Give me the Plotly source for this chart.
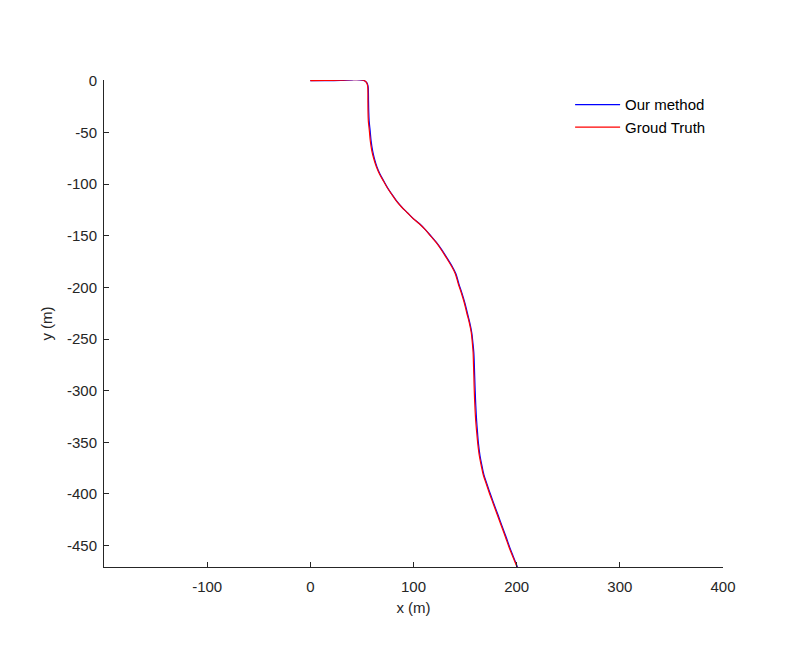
import plotly.graph_objects as go

# Ground truth trajectory (m)
gt_x = [0, 14.5, 29.1, 40.7, 47.5, 51.4, 54.3, 55.5, 55.8, 55.8, 55.9, 56.2, 57.2, 58.1, 59.6,
        61.5, 64.0, 66.9, 70.7, 74.6, 78.5, 83.3, 88.2, 94.0, 99.8, 105.6, 111.4, 117.2, 122.1,
        126.9, 131.8, 136.6, 140.5, 143.4, 146.3, 149.2, 151.6, 154.1, 156.0, 157.0, 157.8,
        158.1, 158.5, 158.9, 159.5, 160.3, 161.3, 162.3, 163.8, 165.7, 167.6, 170.5, 173.4,
        177.3, 181.2, 185.1, 189.0, 192.8, 196.7, 200.6]
gt_y = [0, 0.2, 0.5, 1.0, 1.0, 0.4, -1.5, -4.8, -11.6, -19.4, -29.0, -38.7, -48.4, -58.1,
        -67.8, -75.5, -83.3, -90.0, -96.8, -103.6, -109.4, -116.2, -122.0, -127.8, -133.6,
        -138.4, -144.2, -151.0, -156.8, -163.6, -171.3, -179.1, -186.8, -196.5, -205.2,
        -214.9, -224.6, -234.3, -243.9, -253.6, -263.3, -273.0, -285.6, -300.1, -314.6,
        -329.1, -340.8, -351.4, -363.0, -372.7, -381.4, -390.1, -398.8, -409.5, -420.1,
        -430.8, -441.4, -452.1, -461.8, -471.4]

# Our method trajectory (m)
our_x = [0, 14.5, 29.2, 40.8, 47.6, 51.6, 54.6, 55.9, 56.3, 56.4, 56.6, 57.0, 58.0, 58.9, 60.4,
         62.2, 64.6, 67.4, 71.1, 74.9, 78.8, 83.6, 88.5, 94.3, 100.1, 105.9, 111.7, 117.6, 122.6,
         127.5, 132.4, 137.2, 141.1, 144.0, 146.9, 149.8, 152.2, 154.6, 156.5, 157.6, 158.5,
         158.9, 159.3, 159.8, 160.4, 161.2, 162.1, 163.0, 164.5, 166.4, 168.3, 171.2, 174.1,
         178.0, 181.9, 185.8, 189.7, 193.5, 197.3, 201.1]
our_y = [0, 0.1, 0.4, 0.9, 0.9, 0.3, -1.6, -4.9, -11.7, -19.5, -29.1, -38.8, -48.5, -58.2,
         -67.9, -75.6, -83.4, -90.1, -96.9, -103.7, -109.5, -116.3, -122.1, -127.9, -133.7,
         -138.5, -144.3, -151.1, -156.9, -163.7, -171.4, -179.2, -186.9, -196.6, -205.3,
         -215.0, -224.7, -234.4, -244.0, -253.7, -263.4, -273.1, -285.7, -300.2, -314.7,
         -329.2, -340.9, -351.5, -363.1, -372.8, -381.5, -390.2, -398.9, -409.6, -420.2,
         -430.9, -441.5, -452.2, -461.9, -471.5]

x_ticks = [-100, 0, 100, 200, 300, 400]
y_ticks = [0, -50, -100, -150, -200, -250, -300, -350, -400, -450]

FONT = "Liberation Sans, Arial, Helvetica, sans-serif"
AX = "#262626"

fig = go.Figure()
fig.add_trace(go.Scatter(x=our_x, y=our_y, mode="lines", name="Our method",
                         line=dict(color="#0000ff", width=1.2, shape="spline", smoothing=1.0)))
fig.add_trace(go.Scatter(x=gt_x, y=gt_y, mode="lines", name="Groud Truth",
                         line=dict(color="#ff0000", width=1.2, shape="spline", smoothing=1.0)))

axis_common = dict(showgrid=False, zeroline=False, showline=True, linecolor=AX, linewidth=1,
                   ticks="inside", ticklen=5, tickcolor=AX, tickwidth=1,
                   tickfont=dict(family=FONT, size=15, color=AX), mirror=False)

fig.update_layout(
    width=800, height=671,
    margin=dict(l=96, r=85, t=72, b=112),
    paper_bgcolor="white", plot_bgcolor="white",
    font=dict(family=FONT, size=15, color=AX),
    showlegend=True,
    legend=dict(x=0.753, y=0.983, xanchor="left", yanchor="top",
                bgcolor="rgba(0,0,0,0)", borderwidth=0,
                font=dict(family=FONT, size=15, color="#000000"),
                tracegroupgap=0, itemwidth=45),
    xaxis=dict(range=[-200, 400], tickvals=x_ticks, ticktext=[str(v) for v in x_ticks],
               ticklabelstandoff=6,
               title=dict(text="x (m)", font=dict(family=FONT, size=15, color=AX), standoff=8),
               **axis_common),
    yaxis=dict(range=[-470.7, 0.7], tickvals=y_ticks, ticktext=[str(v) for v in y_ticks],
               ticklabelstandoff=3,
               title=dict(text="y (m)", font=dict(family=FONT, size=15, color=AX), standoff=10),
               **axis_common),
)

fig.write_html("out.html")
